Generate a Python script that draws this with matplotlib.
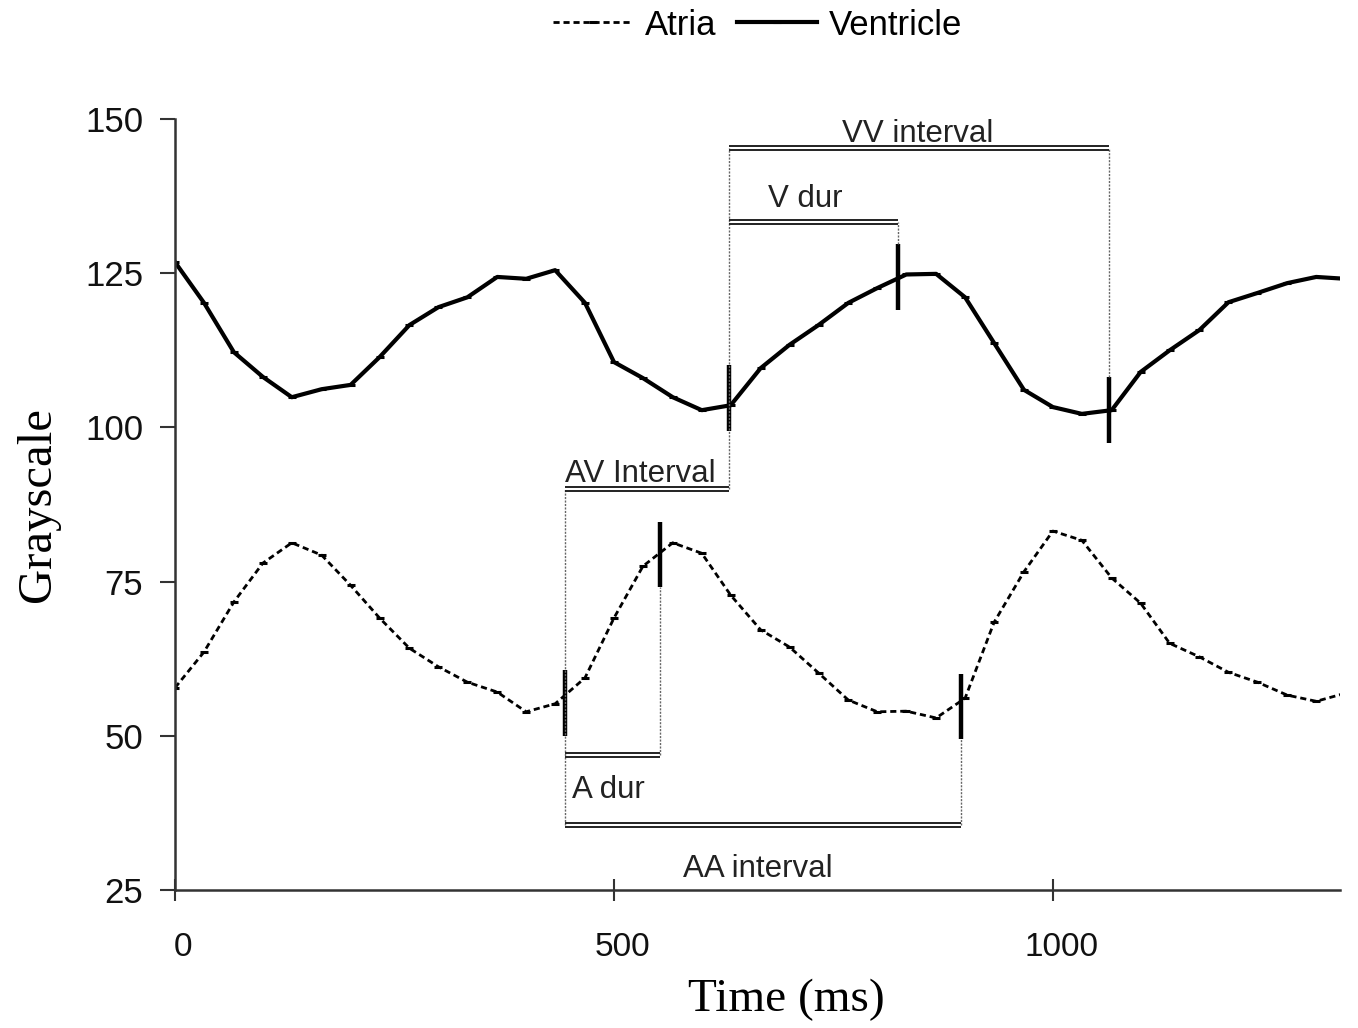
import matplotlib
matplotlib.use("Agg")
import matplotlib.pyplot as plt
import matplotlib.transforms as mtransforms

# sample times (ms), one frame every ~33 ms
time_ms = [0, 33, 67, 100, 133, 167, 200, 233, 267, 300, 333, 367, 400, 433,
           467, 500, 533, 567, 600, 633, 667, 700, 733, 767, 800, 833, 867,
           900, 933, 967, 1000, 1033, 1067, 1100, 1133, 1167, 1200, 1233,
           1267, 1300, 1333]

ventricle = [126.8, 120.2, 112.2, 108.2, 104.9, 106.2, 106.9, 111.4, 116.6,
             119.5, 121.1, 124.4, 124.1, 125.5, 120.2, 110.6, 108.0, 104.9,
             102.8, 103.6, 109.6, 113.4, 116.6, 120.2, 122.6, 124.8, 124.9,
             121.1, 113.7, 106.1, 103.3, 102.2, 102.8, 109.0, 112.5, 115.8,
             120.3, 121.8, 123.4, 124.4, 124.1]

atria = [57.8, 63.6, 71.7, 78.0, 81.3, 79.3, 74.4, 69.1, 64.2, 61.2, 58.7,
         57.1, 53.9, 55.2, 59.4, 69.1, 77.5, 81.3, 79.6, 72.8, 67.2, 64.4,
         60.2, 55.8, 53.9, 54.0, 52.9, 56.1, 68.4, 76.6, 83.2, 81.7, 75.6,
         71.5, 65.0, 62.8, 60.3, 58.7, 56.6, 55.6, 56.9]

# event marks: (time, centre value)
v_events = [(631, 104.8), (823, 124.4), (1064, 102.8)]
a_events = [(444, 55.3), (552, 79.4), (895, 54.8)]

# interval brackets: label, start, end, y of bracket
brackets = [("VV interval", 631, 1064, 145.3),
            ("V dur", 631, 823, 133.3),
            ("AV Interval", 444, 631, 90.0),
            ("A dur", 444, 552, 46.9),
            ("AA interval", 444, 895, 35.5)]

sans = "Liberation Sans"
serif = "Liberation Serif"

fig = plt.figure(figsize=(13.58, 10.28), dpi=100)
ax = fig.add_axes([0.1289, 0.1342, 0.8578, 0.75])

la, = ax.plot(time_ms, atria, color="black", lw=2.0, ls=(0, (2.2, 1.4)),
              marker="_", ms=6, mew=2.2, label="Atria")
lv, = ax.plot(time_ms, ventricle, color="black", lw=3.0, ls="-",
              marker="_", ms=6, mew=2.2, label="Ventricle")

# thick event ticks
for t, v in v_events + a_events:
    ax.plot([t, t], [v - 5.3, v + 5.3], color="black", lw=3.2,
            solid_capstyle="butt")

# thin dotted connectors
dot = dict(color="#666666", lw=1.0, ls=(0, (1.5, 1.0)))
ax.plot([631, 631], [90.0, 145.3], **dot)
ax.plot([823, 823], [129.7, 133.3], **dot)
ax.plot([1064, 1064], [108.1, 145.3], **dot)
ax.plot([444, 444], [35.5, 90.0], **dot)
ax.plot([552, 552], [46.9, 74.1], **dot)
ax.plot([895, 895], [35.5, 49.5], **dot)

# double-line brackets
for label, t0, t1, y in brackets:
    ax.plot([t0, t1], [y + 0.35, y + 0.35], color="#222222", lw=1.4,
            solid_capstyle="butt")
    ax.plot([t0, t1], [y - 0.35, y - 0.35], color="#222222", lw=1.4,
            solid_capstyle="butt")

tk = dict(fontsize=22.5, family=sans, color="#222222")
ax.text(846, 146.2, "VV interval", ha="center", va="baseline", **tk)
ax.text(675, 135.8, "V dur", ha="left", va="baseline", **tk)
ax.text(444, 91.1, "AV Interval", ha="left", va="baseline", **tk)
ax.text(452, 39.9, "A dur", ha="left", va="baseline", **tk)
ax.text(664, 27.1, "AA interval", ha="center", va="baseline", **tk)

ax.set_xlim(0, 1327)
ax.set_ylim(25, 150)
ax.set_yticks([25, 50, 75, 100, 125, 150])
ax.set_xticks([0, 500, 1000])

for side in ["top", "right"]:
    ax.spines[side].set_visible(False)
for side in ["left", "bottom"]:
    ax.spines[side].set_color("#333333")
    ax.spines[side].set_linewidth(1.8)

ax.tick_params(axis="y", direction="out", length=11, width=1.5,
               colors="#333333", pad=12, labelsize=25)
ax.tick_params(axis="x", direction="inout", length=16, width=1.5,
               colors="#333333", pad=22, labelsize=24)
shift = mtransforms.ScaledTranslation(6 / 72, 0, fig.dpi_scale_trans)
for lab in ax.get_xticklabels():
    lab.set_transform(lab.get_transform() + shift)
for lab in ax.get_xticklabels() + ax.get_yticklabels():
    lab.set_family(sans)
    lab.set_color("#111111")

ax.set_xlabel("Time (ms)", family=serif, fontsize=34, labelpad=10)
ax.set_ylabel("Grayscale", family=serif, fontsize=35, labelpad=18)
ax.xaxis.set_label_coords(0.525, -0.115)

fig.legend(handles=[la, lv], loc="upper center", ncol=2, frameon=False,
           bbox_to_anchor=(0.558, 1.022), prop={"family": sans, "size": 25},
           handlelength=2.3, handletextpad=0.35, columnspacing=0.6)

fig.savefig("out.png", dpi=100)
